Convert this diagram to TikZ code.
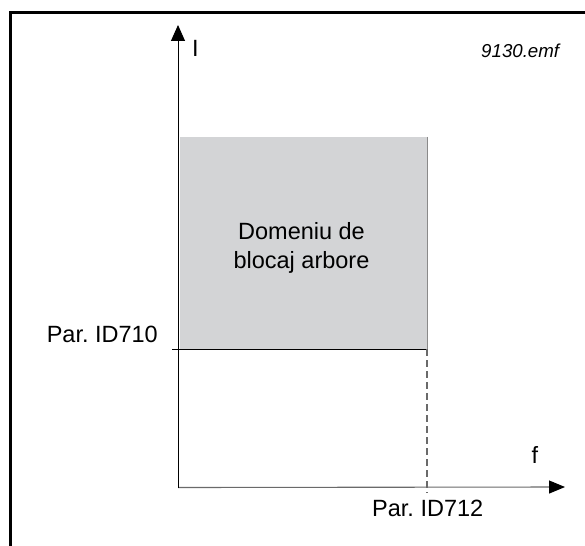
\documentclass[tikz,border=0pt]{standalone}
\usepackage{fontspec}
\setmainfont{Liberation Sans}
\usetikzlibrary{arrows.meta}
\frenchspacing
\definecolor{regiongray}{HTML}{D3D4D6}
\definecolor{edgegray}{HTML}{8A8A8A}
\definecolor{axisgray}{HTML}{6A6A6A}
\tikzset{
  lbl/.style={inner sep=0pt, font=\fontsize{23.5}{29}\selectfont},
  smalllbl/.style={inner sep=0pt, font=\fontsize{18.7}{22}\selectfont\itshape},
  framestyle/.style={line width=3.3pt, line cap=rect},
  yaxis/.style={line width=1pt, black, -{Triangle[length=16pt,width=14pt]}},
  xaxis/.style={line width=1.1pt, axisgray, -{Triangle[length=16pt,width=13pt,fill=black,color=black]}},
  levelline/.style={line width=1pt, black},
  dashline/.style={line width=1.3pt, axisgray, dash pattern=on 7pt off 4pt},
}
\begin{document}
\begin{tikzpicture}[x=1pt,y=-1pt]
\useasboundingbox (0,0) rectangle (585,545);
% frame
\coordinate (FB) at (10.7,546);
\coordinate (FC) at (10.7,12.6);
\coordinate (FR) at (586,12.6);
\draw[framestyle] (FB) -- (FC) -- (FR);
% region
\fill[regiongray] (180,137) rectangle (427,349);
\coordinate (RT) at (427,137);
\coordinate (RB) at (427,349);
\coordinate (LL) at (172,349);
\draw[edgegray, line width=0.9pt] (RT) -- (RB);
\draw[levelline] (LL) -- (RB);
% axes
\coordinate (O) at (178,487.5);
\coordinate (Ytop) at (178,25);
\coordinate (Xend) at (565,487);
\coordinate (DB) at (427,493);
\draw[dashline] (RB) -- (DB);
\draw[xaxis] (O) -- (Xend);
\draw[yaxis] (O) -- (Ytop);
% labels
\node[lbl, anchor=base west] (ylab) at (192,57) {I};
\node[lbl, anchor=base west] (xlab) at (531.5,463) {f};
\node[smalllbl, anchor=base west] (file) at (481,58) {9130.emf};
\node[lbl, anchor=base east] (p710) at (158,342) {Par. ID710};
\node[lbl, anchor=base west] (p712) at (372,516.5) {Par. ID712};
\node[lbl, align=center] (region) at (301.5,247.5) {Domeniu de\\blocaj arbore};
\end{tikzpicture}
\end{document}
